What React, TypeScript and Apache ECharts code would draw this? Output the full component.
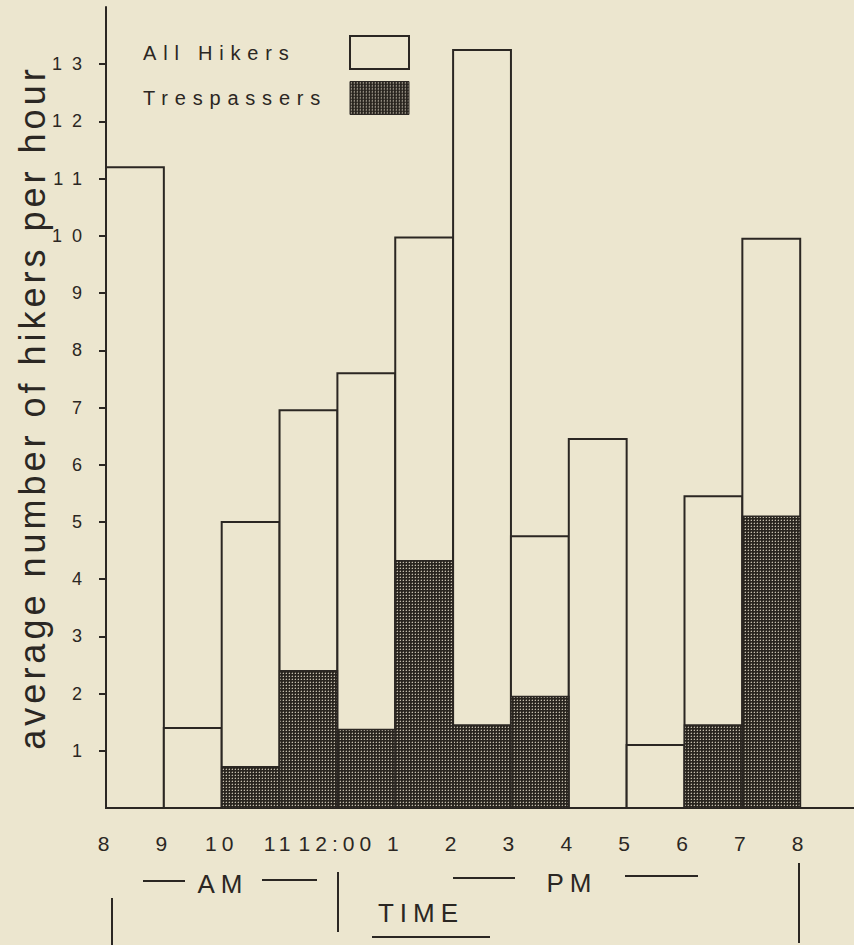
import React, { useEffect, useRef } from 'react';
import * as echarts from 'echarts';

// Hour boundaries along the x axis (8 AM to 8 PM)
const hourLabels = ['8', '9', '10', '11', '12:00', '1', '2', '3', '4', '5', '6', '7', '8'];
// Average number of hikers per hour, one value per hour interval
const allHikers = [11.2, 1.4, 5.0, 6.95, 7.6, 9.97, 13.25, 4.75, 6.45, 1.1, 5.45, 9.95];
const trespassers = [0, 0, 0.72, 2.4, 1.37, 4.32, 1.45, 1.95, 0, 0, 1.45, 5.1];
const yTickValues = [1, 2, 3, 4, 5, 6, 7, 8, 9, 10, 11, 12, 13];
const xTickValues = [0, 1, 2, 3, 4, 5, 6, 7, 8, 9, 10, 11, 12];

const BG = '#ece6cf';
const INK = '#2b2723';
const FONT = '"Liberation Sans", Arial, Helvetica, sans-serif';

function makePattern() {
  const c = document.createElement('canvas');
  c.width = 3;
  c.height = 3;
  const ctx = c.getContext('2d')!;
  ctx.fillStyle = '#29251f';
  ctx.fillRect(0, 0, 3, 3);
  ctx.fillStyle = '#c4bdac';
  ctx.fillRect(1, 1, 1, 1);
  ctx.fillStyle = '#5a554c';
  ctx.fillRect(0, 1, 1, 1);
  ctx.fillRect(1, 0, 1, 1);
  return { image: c, repeat: 'repeat' } as any;
}

const renderBar = (params: any, api: any) => {
  const i = api.value(0);
  const v = api.value(1);
  if (!(v > 0)) return null;
  const a = api.coord([i, 0]);
  const b = api.coord([i + 1, v]);
  return {
    type: 'rect',
    shape: { x: a[0], y: b[1], width: b[0] - a[0], height: a[1] - b[1] },
    style: api.style(),
  };
};

const spacingBySize: Record<string, number> = {
  '36px': 4,
  '21px': 5,
  '20px': 6.8,
  '18px': 10,
  '26px': 6,
};

export default function App() {
  const ref = useRef<HTMLDivElement>(null);

  useEffect(() => {
    document.body.style.margin = '0';
    document.body.style.background = BG;
    const el = ref.current!;
    const chart = echarts.init(el, undefined, { renderer: 'svg' });
    const pattern = makePattern();

    const applySpacing = () => {
      el.querySelectorAll('text').forEach((t) => {
        const fs = getComputedStyle(t).fontSize;
        const ls = spacingBySize[fs];
        if (ls != null) (t as SVGTextElement).style.letterSpacing = ls + 'px';
      });
    };
    chart.on('finished', applySpacing);

    const lineStyle = { stroke: INK, lineWidth: 2 };
    const annoText = (text: string, x: number, y: number) => ({
      type: 'text',
      x,
      y,
      style: {
        text,
        fill: INK,
        font: `26px ${FONT}`,
        align: 'center',
        verticalAlign: 'middle',
      },
    });
    const hLine = (x1: number, y1: number, x2: number, y2: number) => ({
      type: 'line',
      shape: { x1, y1, x2, y2 },
      style: lineStyle,
    });

    chart.setOption({
      animation: false,
      backgroundColor: BG,
      textStyle: { fontFamily: FONT, color: INK },
      grid: { left: 106, right: 0, top: 7, bottom: 137, containLabel: false },
      legend: {
        orient: 'vertical',
        align: 'right',
        left: 138,
        top: 30,
        itemWidth: 59,
        itemHeight: 33,
        itemGap: 11,
        icon: 'rect',
        selectedMode: false,
        textStyle: {
          fontSize: 20,
          fontFamily: FONT,
          color: INK,
          rich: {
            l: { fontSize: 20, fontFamily: FONT, color: INK, width: 202, align: 'left' },
          },
        },
        formatter: (name: string) => `{l|${name}}`,
        data: [
          { name: 'All Hikers', itemStyle: { color: BG, borderColor: INK, borderWidth: 2 } },
          { name: 'Trespassers', itemStyle: { color: pattern, borderColor: INK, borderWidth: 1 } },
        ],
      },
      xAxis: {
        type: 'value',
        min: 0,
        max: 12.93,
        splitLine: { show: false },
        axisLine: { show: true, lineStyle: { color: INK, width: 2 } },
        axisTick: { show: false },
        axisLabel: {
          customValues: xTickValues,
          formatter: (v: number) => hourLabels[Math.round(v)] ?? '',
          fontSize: 21,
          fontFamily: FONT,
          color: INK,
          margin: 25,
        },
      },
      yAxis: {
        type: 'value',
        min: 0,
        max: 14,
        interval: 1,
        splitLine: { show: false },
        axisLine: { show: true, lineStyle: { color: INK, width: 2 } },
        axisTick: { show: true, customValues: yTickValues, length: 7, lineStyle: { color: INK, width: 2 } },
        axisLabel: {
          customValues: yTickValues,
          fontSize: 18,
          fontFamily: FONT,
          color: INK,
          margin: 14,
        },
        name: 'average number of hikers per hour',
        nameLocation: 'middle',
        nameRotate: 90,
        nameGap: 56,
        nameTextStyle: { fontSize: 36, fontFamily: FONT, color: INK },
      },
      series: [
        {
          name: 'All Hikers',
          type: 'custom',
          renderItem: renderBar,
          encode: { x: 0, y: 1 },
          itemStyle: { color: BG, borderColor: INK, borderWidth: 2 },
          data: allHikers.map((v, i) => [i, v]),
          z: 2,
        },
        {
          name: 'Trespassers',
          type: 'custom',
          renderItem: renderBar,
          encode: { x: 0, y: 1 },
          itemStyle: { color: pattern, borderColor: INK, borderWidth: 1.5 },
          data: trespassers.map((v, i) => [i, v]),
          z: 3,
        },
      ],
      graphic: [
        hLine(143, 881, 185, 881),
        annoText('AM', 223, 884),
        hLine(262, 880, 317, 880),
        hLine(338, 872, 338, 932),
        hLine(453, 878, 515, 878),
        annoText('PM', 572, 883),
        hLine(625, 876, 698, 876),
        hLine(799, 863, 799, 943),
        hLine(112, 898, 112, 945),
        annoText('TIME', 421, 913),
        hLine(372, 937, 490, 937),
      ],
    });
    applySpacing();

    return () => {
      chart.dispose();
    };
  }, []);

  return <div ref={ref} style={{ width: 854, height: 945, background: BG }} />;
}
